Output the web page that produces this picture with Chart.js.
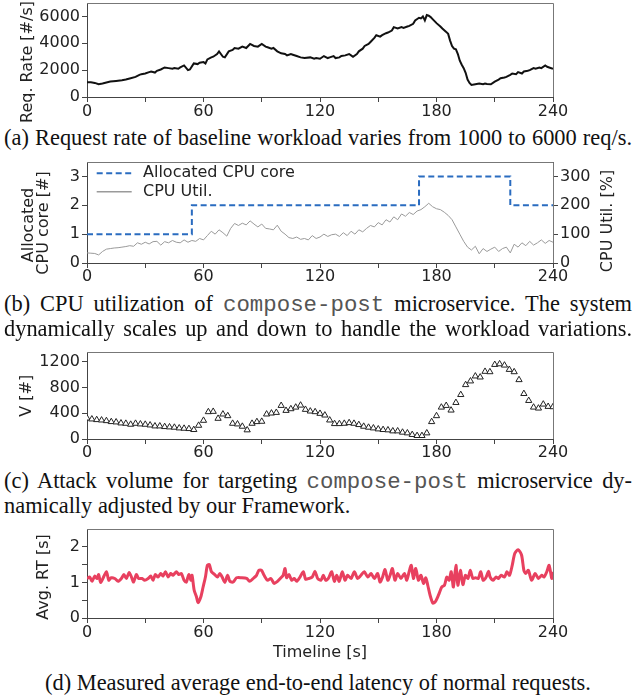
<!DOCTYPE html>
<html><head><meta charset="utf-8">
<script src="https://cdn.jsdelivr.net/npm/chart.js@4.4.1/dist/chart.umd.min.js"></script>
<style>
html,body{margin:0;padding:0;background:#fff;}
body{width:636px;height:698px;position:relative;overflow:hidden;}
canvas{position:absolute;left:0;}
.cap{position:absolute;left:4px;width:628px;font-family:"Liberation Serif","Times New Roman",serif;font-size:22.4px;line-height:25px;color:#111;}
.j{text-align:justify;text-align-last:justify;}
.mono{font-family:"Liberation Mono","Courier New",monospace;color:#555;}
</style></head><body>
<canvas id="ca" width="636" height="125" style="top:0"></canvas>
<canvas id="cb" width="636" height="135" style="top:150px"></canvas>
<canvas id="cc" width="636" height="125" style="top:340px"></canvas>
<canvas id="cd" width="636" height="150" style="top:520px"></canvas>

<div class="cap j" style="top:125px">(a) Request rate of baseline workload varies from 1000 to 6000 req/s.</div>
<div class="cap j" style="top:290.5px">(b) CPU utilization of <span class="mono">compose-post</span> microservice. The system</div>
<div class="cap j" style="top:315.5px">dynamically scales up and down to handle the workload variations.</div>
<div class="cap j" style="top:467.5px">(c) Attack volume for targeting <span class="mono">compose-post</span> microservice dy-</div>
<div class="cap" style="top:492.5px">namically adjusted by our Framework.</div>
<div class="cap" style="top:669.5px;text-align:center">(d) Measured average end-to-end latency of normal requests.</div>

<script>
// ---------- DATA ----------
// x-axis ticks (every 30 s) and the ones that carry a label
const xTicks = [0, 30, 60, 90, 120, 150, 180, 210, 240];
const xMajor = [0, 60, 120, 180, 240];

// (a) request rate
const reqTicks = [0, 2000, 4000, 6000];
const reqTime = [0,2,4,6,8,10,12,15,18,20,22,25,27,28,30,32,33,35,36,38,40,42,44,45,47,48,50,52,53,55,57,58,60,61,62,64,65,67,68,70,71,73,75,76,78,80,82,84,86,88,90,92,93,95,96,98,100,102,103,105,106,108,110,112,115,117,118,120,122,124,125,127,128,130,131,133,135,136,137,139,140,142,143,145,146,148,149,151,152,154,155,157,158,160,162,163,165,166,168,169,171,172,173,174,175,176,177,178,180,182,183,185,186,187,188,189,190,191,192,193,194,195,196,197,198,200,202,204,205,206,208,210,212,213,215,216,218,219,221,222,224,225,227,228,230,231,233,234,236,237,238,240];
const reqRate = [1100,1100,1050,950,1000,1080,1150,1200,1250,1300,1380,1500,1650,1700,1750,1850,1900,1820,1950,2050,2200,2150,2100,2150,2100,2200,2350,2000,2050,2500,2450,2550,2600,2500,2800,2950,3000,3200,3400,3000,2950,3400,3500,3650,3600,3750,3650,3950,3800,3750,3950,3750,3700,3600,3650,3400,3250,3200,3100,3200,3150,3050,2950,2900,2950,2850,2900,2850,3050,2900,2950,3050,2900,2950,3050,3100,3200,3100,3000,3200,3400,3600,3800,3950,4100,4400,4600,4500,4600,4750,4800,4950,5200,5100,5200,5150,5250,5300,5450,5700,5900,5850,6000,5700,6100,6050,5950,5800,5500,5250,5100,4850,4700,4200,3800,3600,3550,3200,2700,2400,2150,1800,1300,1050,900,950,1000,950,1000,970,950,1150,1300,1400,1450,1500,1650,1750,1700,1850,1750,1900,1950,2000,2150,2100,2200,2150,2350,2250,2200,2100];

// (b) CPU utilization [%] and allocated cores
const coreTicks = [0, 1, 2, 3];
const utilTicks = [0, 100, 200, 300];
const utilTime = [0,2,4,6,8,10,12,14,16,18,20,22,24,26,28,30,32,34,36,38,40,42,44,46,48,50,52,54,56,58,60,62,64,66,68,70,72,74,76,78,80,82,84,86,88,90,92,94,96,98,100,102,104,106,108,110,112,114,116,118,120,122,124,126,128,130,132,134,136,138,140,142,144,146,148,150,152,154,156,158,160,162,164,166,168,170,172,174,176,178,180,182,184,186,188,190,192,194,196,198,200,202,204,206,208,210,212,214,216,218,220,222,224,226,228,230,232,234,236,238,240];
const cpuUtil = [35,34,33,28,40,48,50,52,53,55,57,60,58,70,65,72,66,74,75,62,74,70,78,72,70,80,72,78,75,85,80,95,110,100,115,105,93,120,137,130,138,132,146,135,125,135,120,118,115,131,110,100,88,85,90,82,85,80,95,85,90,100,92,98,100,92,105,95,110,100,115,108,120,130,125,140,132,150,142,160,150,170,162,175,168,180,185,195,207,195,188,185,176,165,150,125,100,75,55,45,58,32,50,40,48,55,40,50,55,35,65,55,70,60,75,62,70,80,68,78,72];
const coreTime = [0, 54, 171, 218, 240];
const coreCount = [1, 2, 3, 2, 2];

// (c) attack volume, one sample every 2.5 s
const volTicks = [0, 400, 800, 1200];
const volStep = 2.5;
const attackVolume = [323,308,298,292,282,267,262,246,241,226,241,231,226,215,200,200,190,185,180,169,164,159,144,210,287,421,426,318,385,359,241,231,195,139,241,267,272,385,400,410,518,441,467,492,523,457,431,421,395,369,292,236,236,241,251,241,221,195,180,169,154,144,139,123,123,103,92,67,51,51,92,267,359,492,518,446,564,687,841,898,975,959,1047,1041,1154,1164,1144,1077,1041,918,703,595,492,477,539,503,498];

// (d) average response time [s]
const rtTicks = [0, 0.5, 1, 1.5, 2];
const rtLabelled = [0, 1, 2];
const rtTime = [0,1.4,2.6,4,5.2,6,7,8.2,10,11.2,12.5,14.3,16,17.7,19,20.3,21.7,22.9,24,25.4,26.6,28.4,29.7,31.5,32.8,34,35.2,36.6,38,39.2,40.4,41.8,43.1,44.3,46,47.3,48.6,50,51.2,52.4,53.5,54.1,55.2,56.4,57.2,58.6,59.8,61,62,63,64.1,65.8,67.2,68.4,69.6,71,72.4,73.6,75.3,77,79.6,82.2,83.9,85.6,87.3,88.5,89.9,91.2,93,94.7,96.4,98.1,99.9,101,102,102.8,104,105.4,106.7,108,109.7,111.4,112.6,114.3,116,117.4,118.8,120.5,121.7,122.9,124.3,126,127.4,128.6,129.9,131.5,132.9,134.2,136,137.7,139.4,141.1,142.8,144.6,146.3,148,149.7,150.9,152.1,153.5,154.9,156.1,157.3,158.6,160,161.7,163.5,164.7,165.9,167,168.1,169.3,170.7,172,173.3,174.5,175.5,176.7,178.1,179.3,181,182.7,184.1,185.3,186.5,187.6,188.7,190,191,192.3,193.6,194.9,196.2,197.4,198.7,200.1,201.5,202.8,204,205.4,206.8,207.6,209.2,210.6,211.9,213.3,215,216.3,217.6,219,220.3,222,223.8,225,226,227.3,229,230.8,232.5,234.2,235.4,236.8,238,239.4,240];
const avgRT = [1.11,1.15,1.03,1.18,1.11,1.22,1.0,1.11,1.3,1.06,1.13,1.11,1.03,1.11,1.22,1.11,1.28,1.15,1.01,1.22,1.11,1.11,1.06,1.11,1.18,1.06,1.22,1.15,1.25,1.18,1.3,1.15,1.25,1.2,1.3,1.22,1.25,1.06,1.01,1.22,1.06,1.2,0.78,0.59,0.43,0.59,0.87,1.15,1.48,1.5,1.3,1.22,1.15,1.25,1.15,1.0,1.2,1.03,1.01,1.13,1.13,1.11,1.03,1.11,1.2,1.34,1.34,1.2,1.06,1.11,0.97,1.03,1.13,1.2,1.39,1.13,1.22,1.06,1.11,1.03,1.15,1.3,1.09,1.11,1.15,1.31,1.11,1.06,1.2,1.06,1.11,1.3,1.03,1.2,1.03,1.3,1.06,1.2,1.11,1.3,1.11,1.2,1.3,1.15,1.25,1.11,1.25,1.01,1.13,1.36,1.06,1.2,1.39,1.06,1.25,1.11,1.25,1.06,1.3,1.48,1.11,1.39,1.06,1.2,0.97,1.13,0.92,0.64,0.42,0.45,0.64,0.87,0.92,1.15,1.06,1.3,0.87,1.48,0.92,1.34,0.94,1.2,1.11,1.34,1.11,1.13,1.11,1.3,1.06,1.13,1.31,1.15,1.06,1.15,1.11,1.2,1.15,1.3,1.2,1.48,1.81,1.92,1.77,1.34,1.25,1.34,1.06,1.25,1.11,1.2,1.15,1.3,1.48,1.11,1.3];

// ---------- HELPERS ----------
const zip = (xs, ys) => xs.map((x, i) => ({x: x, y: ys[i]}));
const volTime = attackVolume.map((_, i) => i * volStep);
const TFONT = '16px "DejaVu Sans"';
const TICKFONT = {family: 'DejaVu Sans', size: 16, lineHeight: 1};
const AXC = '#444';

function xScale(h, pad) {
  return {
    type: 'linear', position: 'bottom', min: 0, max: 240,
    afterBuildTicks: s => { s.ticks = xTicks.map(v => ({value: v})); },
    ticks: {autoSkip: false, maxRotation: 0, minRotation: 0, padding: pad, color: '#222', font: TICKFONT,
      callback: v => xMajor.includes(v) ? String(v) : ''},
    grid: {drawOnChartArea: false, drawTicks: true, tickLength: 5, color: AXC},
    border: {display: true, color: AXC, width: 1},
    afterFit: s => { s.height = h; s.paddingLeft = 0; s.paddingRight = 0; }
  };
}
function yScale(pos, max, tickVals, labelVals, w) {
  return {
    type: 'linear', position: pos, min: 0, max: max,
    afterBuildTicks: s => { s.ticks = tickVals.map(v => ({value: v})); },
    ticks: {autoSkip: false, padding: 2, color: '#222', font: TICKFONT,
      callback: v => labelVals.includes(v) ? String(v) : ''},
    grid: {drawOnChartArea: false, drawTicks: true, tickLength: 5, color: AXC},
    border: {display: true, color: AXC, width: 1},
    afterFit: s => { s.width = w; s.paddingTop = 0; s.paddingBottom = 0; }
  };
}
const framePlugin = {
  id: 'frame',
  afterDraw(chart) {
    const ctx = chart.ctx, a = chart.chartArea;
    ctx.save();
    ctx.strokeStyle = '#777'; ctx.lineWidth = 1;
    ctx.beginPath();
    ctx.moveTo(a.left, Math.round(a.top) + 0.5);
    ctx.lineTo(Math.round(a.right) + 0.5, Math.round(a.top) + 0.5);
    ctx.lineTo(Math.round(a.right) + 0.5, a.bottom);
    ctx.stroke();
    ctx.restore();
  }
};
function titles(items) {
  return {
    id: 'axisTitles',
    afterDraw(chart) {
      const ctx = chart.ctx;
      items.forEach(it => {
        ctx.save();
        ctx.font = TFONT; ctx.fillStyle = '#222';
        ctx.textAlign = 'center'; ctx.textBaseline = 'alphabetic';
        ctx.translate(it.x, it.y); ctx.rotate(it.rot || 0);
        ctx.fillText(it.text, 0, 0);
        ctx.restore();
      });
    }
  };
}
function innerLegend(order, cfg) {
  return {
    id: 'innerLegend',
    afterDraw(chart) {
      const ctx = chart.ctx, a = chart.chartArea;
      order.forEach((di, k) => {
        const ds = chart.data.datasets[di];
        const y = a.top + cfg.y0 + k * cfg.dy;
        ctx.save();
        ctx.strokeStyle = ds.borderColor; ctx.lineWidth = cfg.lw[k];
        ctx.setLineDash(ds.borderDash || []);
        ctx.beginPath(); ctx.moveTo(a.left + cfg.x0, y); ctx.lineTo(a.left + cfg.x1, y); ctx.stroke();
        ctx.setLineDash([]);
        ctx.font = TFONT; ctx.fillStyle = '#222';
        ctx.textAlign = 'left'; ctx.textBaseline = 'middle';
        ctx.fillText(ds.label, a.left + cfg.tx, y);
        ctx.restore();
      });
    }
  };
}
const common = {
  responsive: false, animation: false,
  plugins: {legend: {display: false}, tooltip: {enabled: false}},
  elements: {point: {radius: 0}}
};
const DEG90 = -Math.PI / 2;

// ---------- (a) ----------
new Chart(document.getElementById('ca'), {
  type: 'line',
  data: {datasets: [{label: 'Req. Rate', data: zip(reqTime, reqRate), borderColor: '#111', borderWidth: 2, tension: 0, pointRadius: 0}]},
  options: Object.assign({}, common, {
    layout: {padding: {top: 3, left: 0, right: 83, bottom: 0}},
    scales: {x: xScale(28, 2), y: yScale('left', 7000, reqTicks, reqTicks, 87)}
  }),
  plugins: [framePlugin, titles([{text: 'Req. Rate [#/s]', x: 31.5, y: 62, rot: DEG90}])]
});

// ---------- (b) ----------
new Chart(document.getElementById('cb'), {
  type: 'line',
  data: {datasets: [
    {label: 'CPU Util.', data: zip(utilTime, cpuUtil), yAxisID: 'y2', borderColor: '#9a9a9a', borderWidth: 1, tension: 0, pointRadius: 0},
    {label: 'Allocated CPU core', data: zip(coreTime, coreCount), yAxisID: 'y', stepped: 'before', borderColor: '#2a6cc0', borderWidth: 2, borderDash: [6, 3.5], pointRadius: 0}
  ]},
  options: Object.assign({}, common, {
    layout: {padding: {top: 12, left: 0, right: 0, bottom: 0}},
    scales: {x: xScale(22, 1), y: yScale('left', 3.5, coreTicks, coreTicks, 87), y2: yScale('right', 350, utilTicks, utilTicks, 83)}
  }),
  plugins: [framePlugin,
    titles([
      {text: 'Allocated', x: 33, y: 75, rot: DEG90},
      {text: 'CPU core [#]', x: 47.7, y: 73, rot: DEG90},
      {text: 'CPU Util. [%]', x: 611.7, y: 71, rot: DEG90}
    ]),
    innerLegend([1, 0], {x0: 9.7, x1: 44.7, tx: 56, y0: 11.3, dy: 18.4, lw: [2, 1.5]})]
});

// ---------- (c) ----------
new Chart(document.getElementById('cc'), {
  type: 'line',
  data: {datasets: [{label: 'V', data: zip(volTime, attackVolume), showLine: false, pointStyle: 'triangle', pointRadius: 3.6,
    pointBorderColor: '#222', pointBackgroundColor: '#fff', pointBorderWidth: 1}]},
  options: Object.assign({}, common, {
    layout: {padding: {top: 12, left: 0, right: 83, bottom: 0}},
    scales: {x: xScale(26, 1), y: yScale('left', 1350, volTicks, volTicks, 87)}
  }),
  plugins: [framePlugin, titles([{text: 'V [#]', x: 31, y: 55.7, rot: DEG90}])]
});

// ---------- (d) ----------
new Chart(document.getElementById('cd'), {
  type: 'line',
  data: {datasets: [{label: 'Avg. RT', data: zip(rtTime, avgRT), borderColor: '#e8405f', borderWidth: 3, tension: 0.25, pointRadius: 0}]},
  options: Object.assign({}, common, {
    layout: {padding: {top: 9, left: 0, right: 83, bottom: 0}},
    scales: {x: xScale(52, 2), y: yScale('left', 2.5, rtTicks, rtLabelled, 87)}
  }),
  plugins: [framePlugin, titles([
    {text: 'Avg. RT [s]', x: 47.7, y: 57, rot: DEG90},
    {text: 'Timeline [s]', x: 320, y: 137, rot: 0}
  ])]
});
</script>
</body></html>
